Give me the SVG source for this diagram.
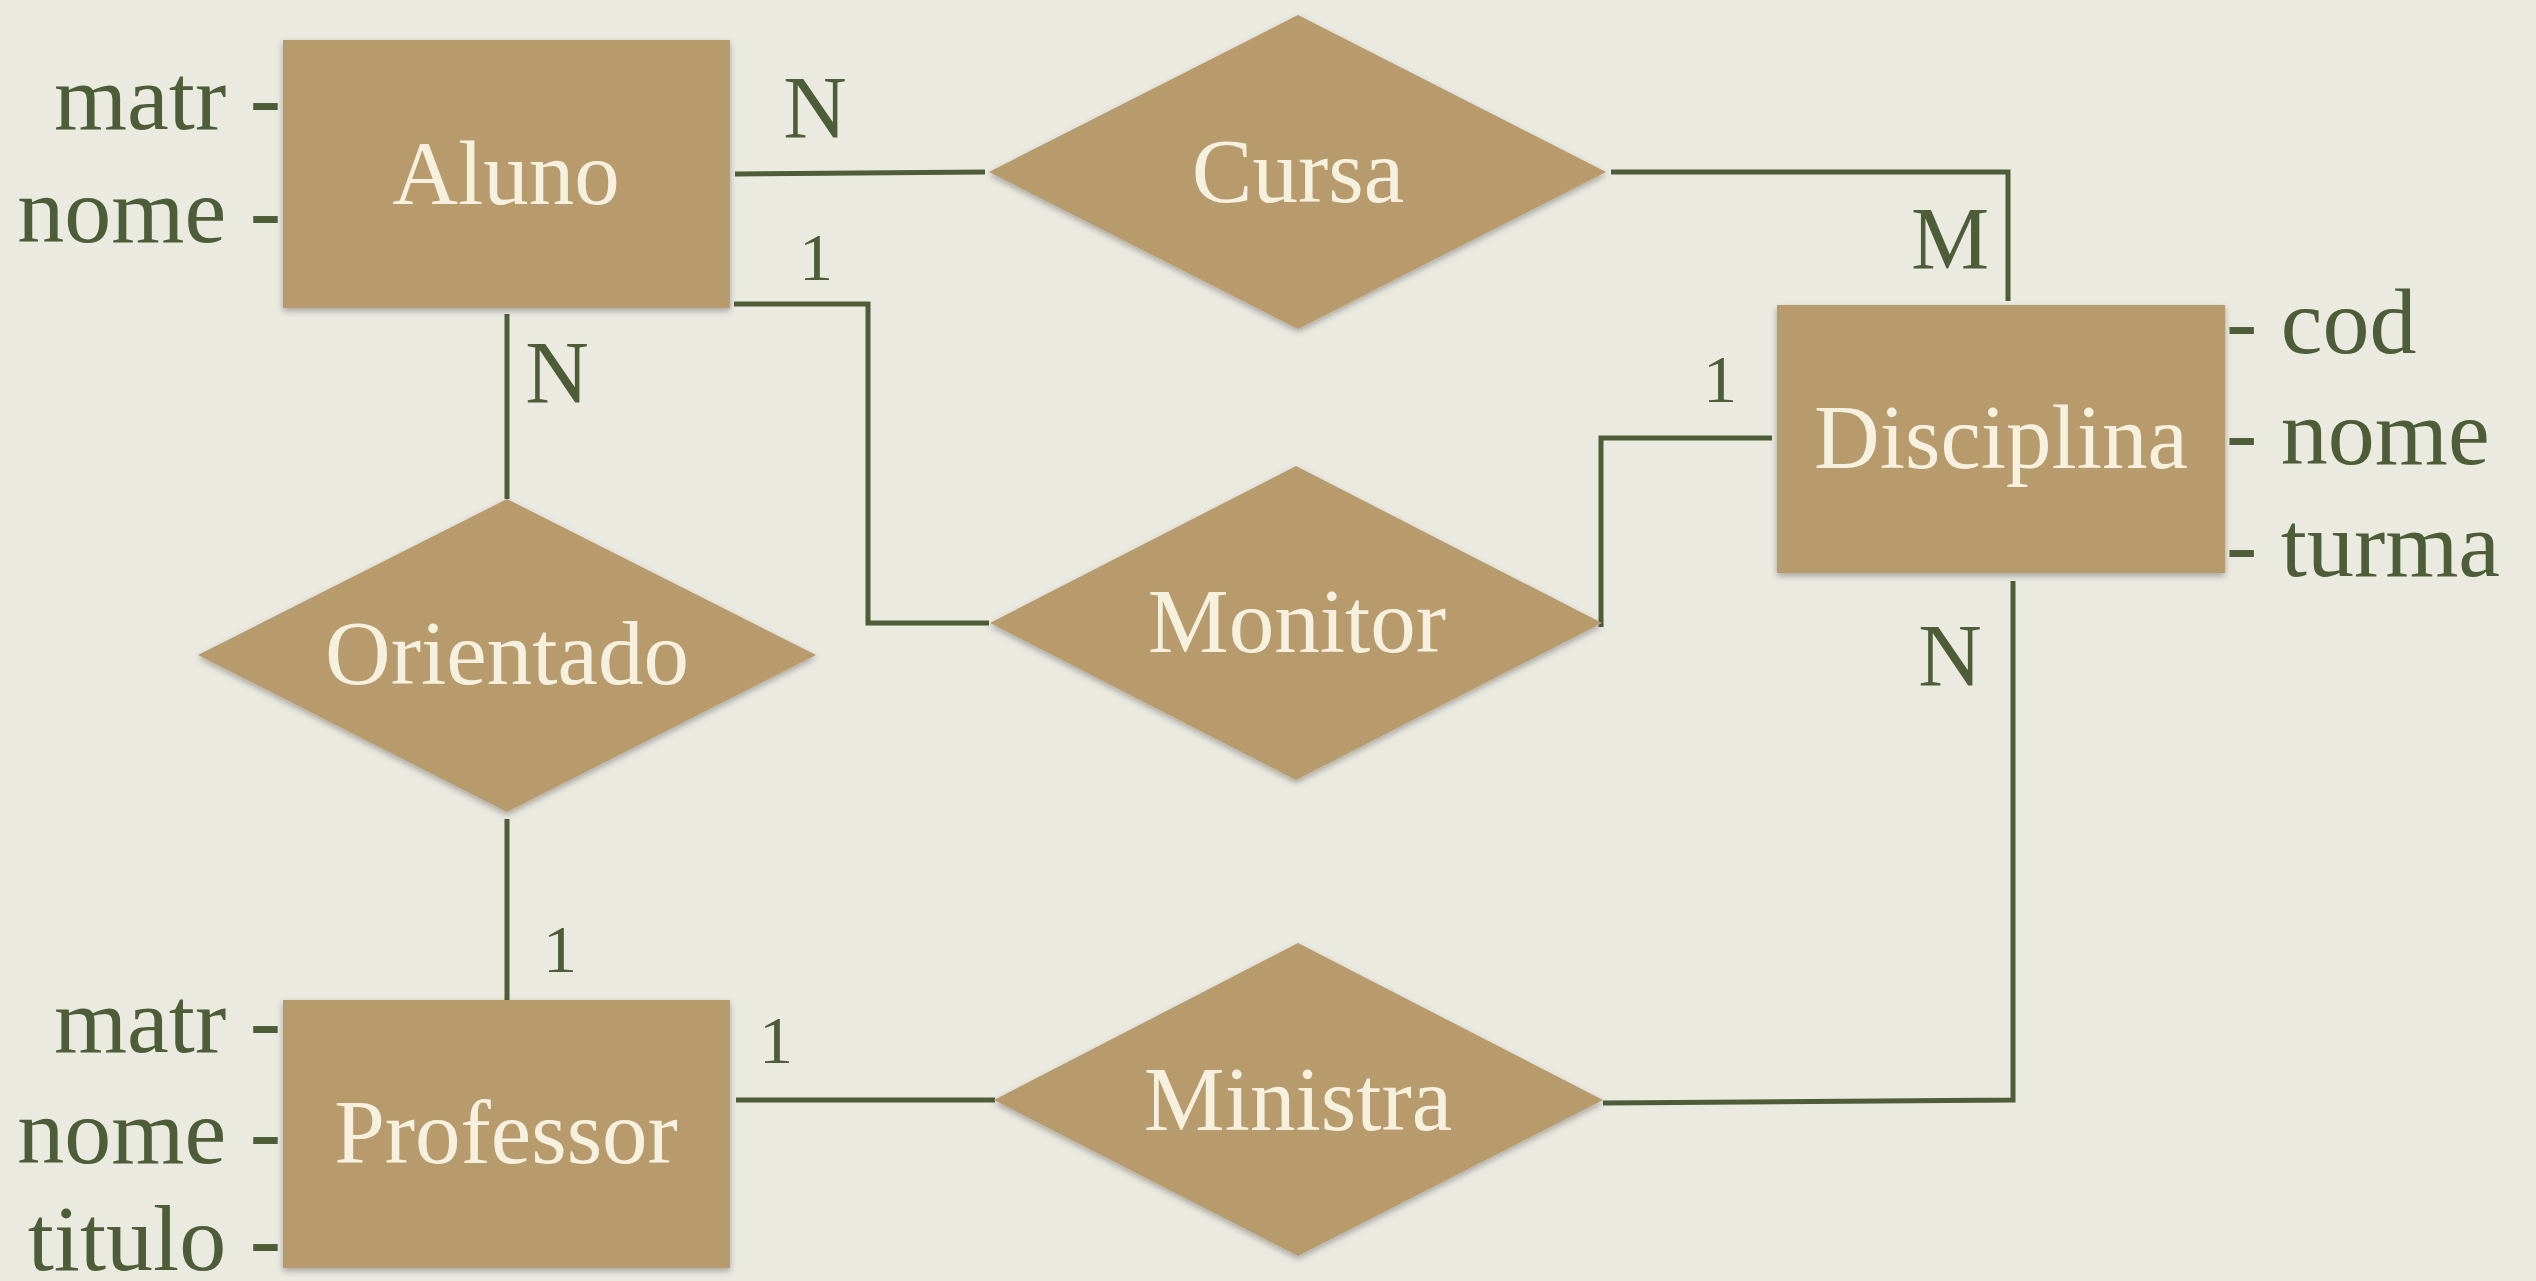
<svg xmlns="http://www.w3.org/2000/svg" width="2536" height="1281" viewBox="0 0 2536 1281">
<style>
.box{fill:#b89b6c;filter:url(#sh)}
.name{font-family:"Liberation Serif","Times New Roman",serif;font-size:91px;fill:#f6f0df;text-anchor:middle}
.attr{font-family:"Liberation Serif","Times New Roman",serif;font-size:94px;fill:#4c5d38}
.card{font-family:"Liberation Serif","Times New Roman",serif;font-size:88px;fill:#4c5d38;text-anchor:middle}
.one{font-family:"Liberation Serif","Times New Roman",serif;font-size:68px;fill:#4c5d38;text-anchor:middle}
.ln{fill:none;stroke:#4c5d38;stroke-width:5}
</style>
<defs>
<filter id="sh" x="-10%" y="-10%" width="120%" height="125%">
<feDropShadow dx="0" dy="3" stdDeviation="3" flood-color="#000" flood-opacity="0.3"/>
</filter>
</defs>
<rect width="2536" height="1281" fill="#ebeae1"/>
<g id="connectors">
<path class="ln" d="M735 174 L985 172"/>
<path class="ln" d="M1611 172 H2008 V301"/>
<path class="ln" d="M734 304 H868 V623 H989"/>
<path class="ln" d="M1601 627 V438 H1772"/>
<path class="ln" d="M507 314 V499"/>
<path class="ln" d="M507 819 V1003"/>
<path class="ln" d="M736 1100 H995"/>
<path class="ln" d="M1603 1103 L2013 1100 V581"/>
</g>
<g id="labels">
<text class="card" x="815" y="137">N</text>
<text class="one" x="816" y="280">1</text>
<text class="card" x="1950" y="268">M</text>
<text class="one" x="1720" y="402">1</text>
<text class="card" x="557" y="402">N</text>
<text class="card" x="1950" y="685">N</text>
<text class="one" x="560" y="972">1</text>
<text class="one" x="776" y="1063">1</text>
</g>
<g id="aluno">
<rect class="box" x="283" y="40" width="447" height="268"/>
<text class="name" x="506" y="204">Aluno</text>
<text class="attr" x="281" y="129" text-anchor="end">matr -</text>
<text class="attr" x="281" y="242" text-anchor="end">nome -</text>
</g>
<g id="professor">
<rect class="box" x="283" y="1000" width="447" height="268"/>
<text class="name" x="506" y="1163">Professor</text>
<text class="attr" x="281" y="1052" text-anchor="end">matr -</text>
<text class="attr" x="281" y="1163" text-anchor="end">nome -</text>
<text class="attr" x="281" y="1270" text-anchor="end">titulo -</text>
</g>
<g id="disciplina">
<rect class="box" x="1777" y="305" width="448" height="268"/>
<text class="name" x="2001" y="468">Disciplina</text>
<text class="attr" x="2226" y="353">- cod</text>
<text class="attr" x="2226" y="464">- nome</text>
<text class="attr" x="2226" y="576">- turma</text>
</g>
<g id="cursa">
<polygon class="box" points="989,172 1298,15 1606,172 1298,329"/>
<text class="name" x="1298" y="202">Cursa</text>
</g>
<g id="monitor">
<polygon class="box" points="990,623 1296,466 1602,623 1296,780"/>
<text class="name" x="1297" y="652">Monitor</text>
</g>
<g id="orientado">
<polygon class="box" points="198,655 507,499 816,655 507,812"/>
<text class="name" x="507" y="684">Orientado</text>
</g>
<g id="ministra">
<polygon class="box" points="994,1100 1298,943 1603,1100 1298,1256"/>
<text class="name" x="1298" y="1130">Ministra</text>
</g>
</svg>
